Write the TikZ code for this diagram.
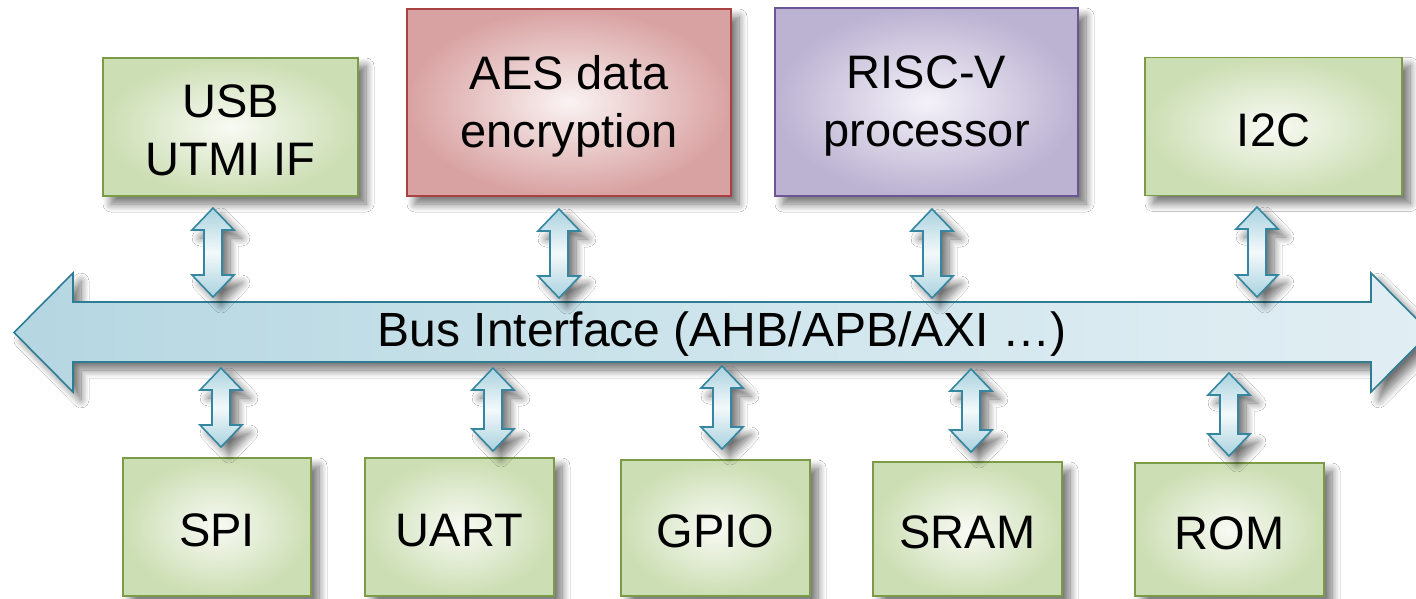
\documentclass[tikz,border=0pt]{standalone}
\usepackage{fontspec}
\setmainfont{Liberation Sans}
\usetikzlibrary{calc,shadows.blur}

\definecolor{grnEdge}{HTML}{7B9B46}
\definecolor{grnOut}{HTML}{CCDEB3}
\definecolor{grnIn}{HTML}{F8FAF4}
\definecolor{redEdge}{HTML}{A8413F}
\definecolor{redOut}{HTML}{D9A2A2}
\definecolor{redIn}{HTML}{FAF3F3}
\definecolor{vioEdge}{HTML}{6B5594}
\definecolor{vioOut}{HTML}{BCB2D2}
\definecolor{vioIn}{HTML}{F4F2F8}
\definecolor{busEdge}{HTML}{2F7D95}
\definecolor{busA}{HTML}{9CC9D7}
\definecolor{busB}{HTML}{D3E7EE}
\definecolor{busC}{HTML}{E6F1F5}
\definecolor{busD}{HTML}{A6CFDB}
\definecolor{lnkEdge}{HTML}{3586A0}
\definecolor{lnkEnd}{HTML}{A9D2DF}
\definecolor{lnkMid}{HTML}{F4F9FB}

\pgfdeclarehorizontalshading{busshade}{100bp}{%
  color(0bp)=(busA); color(55bp)=(busB); color(82bp)=(busC); color(100bp)=(busD)}

\tikzset{
  soft/.style={blur shadow={shadow xshift=8pt, shadow yshift=-8pt,
      shadow blur radius=8pt, shadow blur steps=10, shadow opacity=55}},
  block/.style={soft, draw, line width=1.6pt, shading=radial, inner sep=0pt},
  greenbox/.style={block, draw=grnEdge, inner color=grnIn, outer color=grnOut},
  redbox/.style={block, draw=redEdge, inner color=redIn, outer color=redOut},
  violetbox/.style={block, draw=vioEdge, inner color=vioIn, outer color=vioOut},
  boxtext/.style={text=black, align=center, inner sep=0pt,
      font=\fontsize{47}{58}\selectfont},
  busbody/.style={soft, draw=busEdge, line width=1.6pt, shading=busshade},
  linkbody/.style={soft, draw=lnkEdge, line width=1.6pt,
      top color=lnkEnd, bottom color=lnkEnd, middle color=lnkMid},
  buslabel/.style={text=black, inner sep=0pt, font=\fontsize{48}{56}\selectfont}
}

% vertical two-headed link between two named points (top tip, bottom tip)
\newcommand\linkarrow[2]{%
  \path[linkbody] (#1) -- ($(#1)+(21,22)$) -- ($(#1)+(9,22)$)
    -- ($(#2)+(9,-22)$) -- ($(#2)+(21,-22)$) -- (#2)
    -- ($(#2)+(-21,-22)$) -- ($(#2)+(-9,-22)$)
    -- ($(#1)+(-9,22)$) -- ($(#1)+(-21,22)$) -- cycle;}

% caption of a block, set a little below its centre
\newcommand\blocktext[2]{\node[boxtext] (#1-txt) at ([yshift=-3.5pt]#1.center) {#2};}

\begin{document}
\begin{tikzpicture}[x=1pt,y=-1pt]
\useasboundingbox (0,0) rectangle (1416,599);
\fill[white] (0,0) rectangle (1416,599);

% upper row of blocks
\node[greenbox, minimum width=255pt, minimum height=138pt] (usb) at (230.5,127) {};
\node[redbox, minimum width=324pt, minimum height=187pt] (aes) at (569,102.5) {};
\node[violetbox, minimum width=303pt, minimum height=188pt] (riscv) at (926.5,102) {};
\node[greenbox, minimum width=257pt, minimum height=138pt] (i2c) at (1273.5,126.5) {};
\blocktext{usb}{USB\\UTMI IF}
\blocktext{aes}{AES data\\encryption}
\blocktext{riscv}{RISC-V\\processor}
\blocktext{i2c}{I2C}

% lower row of blocks
\node[greenbox, minimum width=188pt, minimum height=138pt] (spi) at (217,527) {};
\node[greenbox, minimum width=189pt, minimum height=138pt] (uart) at (459.5,527) {};
\node[greenbox, minimum width=189pt, minimum height=136pt] (gpio) at (715.5,528) {};
\node[greenbox, minimum width=189pt, minimum height=134pt] (sram) at (967.5,529) {};
\node[greenbox, minimum width=189pt, minimum height=133pt] (rom) at (1229.5,529.5) {};
\blocktext{spi}{SPI}
\blocktext{uart}{UART}
\blocktext{gpio}{GPIO}
\blocktext{sram}{SRAM}
\blocktext{rom}{ROM}

% system bus
\coordinate (busL) at (14,332.5);
\coordinate (busR) at (1430,332.5);
\path[busbody] (busL) -- (73,273) -- (73,302) -- (1371,302) -- (1371,273) -- (busR)
  -- (1371,392) -- (1371,362) -- (73,362) -- (73,392) -- cycle;
\node[buslabel] (bus) at (722,334) {Bus Interface (AHB/APB/AXI …)};

% links from the upper blocks to the bus
\coordinate (usbT) at (213,208);   \coordinate (usbB) at (213,297);
\coordinate (aesT) at (559,209);   \coordinate (aesB) at (559,298);
\coordinate (rvT) at (932,209);    \coordinate (rvB) at (932,298);
\coordinate (i2cT) at (1257,207);  \coordinate (i2cB) at (1257,297);
\linkarrow{usbT}{usbB}
\linkarrow{aesT}{aesB}
\linkarrow{rvT}{rvB}
\linkarrow{i2cT}{i2cB}

% links from the bus to the lower blocks
\coordinate (spiT) at (221,368);   \coordinate (spiB) at (221,447);
\coordinate (uartT) at (493,368);  \coordinate (uartB) at (493,451);
\coordinate (gpioT) at (722,366);  \coordinate (gpioB) at (722,449);
\coordinate (sramT) at (971,369);  \coordinate (sramB) at (971,452);
\coordinate (romT) at (1229,373);  \coordinate (romB) at (1229,456);
\linkarrow{spiT}{spiB}
\linkarrow{uartT}{uartB}
\linkarrow{gpioT}{gpioB}
\linkarrow{sramT}{sramB}
\linkarrow{romT}{romB}
\end{tikzpicture}
\end{document}
